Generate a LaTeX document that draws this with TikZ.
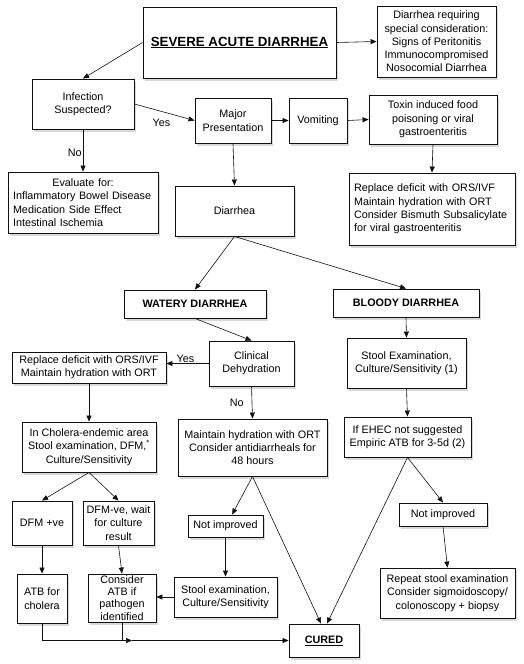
\documentclass[tikz,border=0pt]{standalone}
\usepackage{fontspec}
\setmainfont{Liberation Sans}
\usetikzlibrary{arrows.meta,shadows,calc}
\definecolor{ink}{HTML}{111111}

\tikzset{
  box/.style={draw=ink, line width=0.9pt, fill=white, align=center, inner sep=1pt,
    font=\fontsize{10.8}{13.3}\selectfont,
    drop shadow={shadow xshift=2pt, shadow yshift=-2.5pt, opacity=0.15, fill=black}},
  sz/.style 2 args={minimum width=#1pt, minimum height=#2pt},
  link/.style={draw=ink, line width=0.6pt, -{Triangle[length=6pt,width=5pt]}},
  tag/.style={font=\fontsize{10.8}{13.3}\selectfont, inner sep=1pt}
}

\begin{document}
\begin{tikzpicture}[x=1pt, y=-1pt]
  \useasboundingbox[fill=white] (0,0) rectangle (523,664);
  % top part
  \node[box, sz={193}{71}] (sad) at (239.5,42.5) {\fontsize{13.3}{15}\selectfont\bfseries\underline{SEVERE ACUTE DIARRHEA}};
  \node[box, sz={119}{71}] (special) at (436.5,41.5) {Diarrhea requiring\\special consideration:\\Signs of Peritonitis\\Immunocompromised\\Nosocomial Diarrhea};
  \node[box, sz={102}{50}] (infect) at (83,104) {Infection\\Suspected?};
  \node[box, sz={76}{45}] (major) at (233,120.5) {Major\\Presentation};
  \node[box, sz={58}{45}] (vomit) at (318,120.5) {Vomiting};
  \node[box, sz={128}{49}] (toxin) at (433,119.5) {Toxin induced food\\poisoning or viral\\gastroenteritis};
  \node[box, sz={150}{61}, align=left, text width=140pt, inner xsep=5pt] (evalfor) at (83,202.5)
    {{\centering Evaluate for:\par}Inflammatory Bowel Disease\\Medication Side Effect\\Intestinal Ischemia};
  \node[box, sz={119}{50}] (diarr) at (234.5,211) {Diarrhea};
  \node[box, sz={166}{72}, align=left, text width=156pt, inner xsep=5pt] (suppl) at (432,209)
    {Replace deficit with ORS/IVF\\Maintain hydration with ORT\\Consider Bismuth Subsalicylate\\for viral gastroenteritis};

  % watery / bloody branches
  \node[box, sz={142}{28}] (watery) at (195,304) {\bfseries WATERY DIARRHEA};
  \node[box, sz={146}{28}] (bloody) at (406,303) {\bfseries BLOODY DIARRHEA};
  \node[box, sz={85}{45}] (clin) at (251.5,363.5) {Clinical\\Dehydration};
  \node[box, sz={154}{31}] (rehyd) at (89,367.5) {Replace deficit with ORS/IVF\\Maintain hydration with ORT};
  \node[box, sz={119}{50}] (stool) at (406.5,363) {Stool Examination,\\Culture/Sensitivity (1)};
  \node[box, sz={134}{50}] (cholera) at (89,447) {In Cholera-endemic area\\Stool examination, DFM,\textsuperscript{*}\\Culture/Sensitivity};
  \node[box, sz={149}{57}] (maint) at (252.5,447.5) {Maintain hydration with ORT\\Consider antidiarrheals for\\48 hours};
  \node[box, sz={127}{40}] (ehec) at (407.5,437) {If EHEC not suggested\\Empiric ATB for 3-5d (2)};

  % lower part
  \node[box, sz={60}{44}] (dfmpos) at (42,523) {DFM +ve};
  \node[box, sz={71}{44}] (dfmneg) at (118.5,523) {DFM-ve, wait\\for culture\\result};
  \node[box, sz={75}{22}] (notimpw) at (225.5,526) {Not improved};
  \node[box, sz={88}{23}] (notimpb) at (443,514.5) {Not improved};
  \node[box, sz={50}{49}] (atbchol) at (42,598.5) {ATB for\\cholera};
  \node[box, sz={68}{48}, inner ysep=0pt, font=\fontsize{10.8}{12.2}\selectfont] (atbpath) at (122,598) {Consider\\ATB if\\pathogen\\identified};
  \node[box, sz={103}{40}] (stoolw) at (225.5,597) {Stool examination,\\Culture/Sensitivity};
  \node[box, sz={135}{50}] (repeat) at (447.5,593) {Repeat stool examination\\Consider sigmoidoscopy/\\colonoscopy + biopsy};
  \node[box, sz={70}{33}] (cured) at (324,640.5) {\bfseries\underline{CURED}};
  \coordinate (join) at (132,640.5);

  % connectors
  \draw[link] (sad.west) -- (infect.north);
  \draw[link] (sad.east) -- (special.west);
  \draw[link] (infect.east) -- node[tag, pos=0.45, below=6pt] {Yes} (major.west);
  \draw[link] (major.east) -- (vomit.west);
  \draw[link] (vomit.east) -- (toxin.west);
  \draw[link] (infect.south) -- node[tag, pos=0.55, left] {No} (evalfor.north);
  \draw[link] (major.south) -- (diarr.north);
  \draw[link] (toxin.south) -- (suppl.north);
  \draw[link] (diarr.south) -- (watery.north);
  \draw[link] (diarr.south) -- (bloody.north);
  \draw[link] (watery.south) -- (clin.north);
  \draw[link] (clin.west) -- node[tag, pos=0.55, above] {Yes} (clin.west -| rehyd.east);
  \draw[link] (clin.south) -- node[tag, pos=0.5, left=7pt] {No} (maint.north);
  \draw[link] (bloody.south) -- (stool.north);
  \draw[link] (stool.south) -- (ehec.north);
  \draw[link] (rehyd.south) -- (cholera.north);
  \draw[link] (cholera.south) -- (dfmpos.north);
  \draw[link] (cholera.south) -- (dfmneg.north);
  \draw[link] (dfmpos.south) -- (atbchol.north);
  \draw[link] (dfmneg.south) -- (atbpath.north);
  \draw[link] (maint.south) -- (notimpw.60);
  \draw[link] (maint.south) -- (cured.100);
  \draw[link] (notimpw.south) -- (stoolw.north);
  \draw[link] (stoolw.west) -- (stoolw.west -| atbpath.east);
  \draw[link] (ehec.south) -- (cured.80);
  \draw[link] (ehec.south) -- (notimpb.north);
  \draw[link] (notimpb.south) -- (repeat.north);
  \draw[link] (atbchol.south) |- (join);
  \draw[draw=ink, line width=0.6pt] (atbpath.south) -- (atbpath.south |- join);
  \draw[link] (join) -- (cured.west);
\end{tikzpicture}
\end{document}
